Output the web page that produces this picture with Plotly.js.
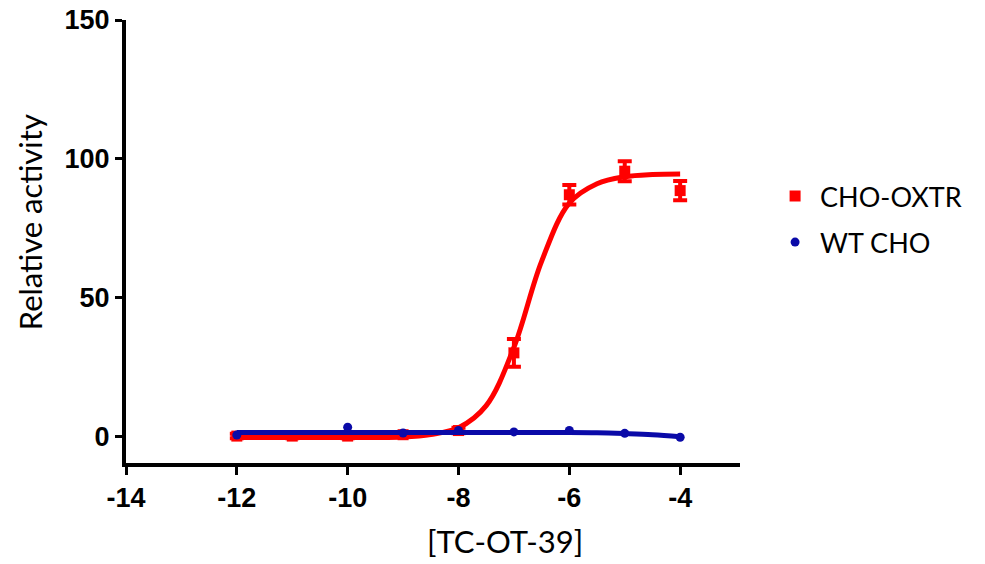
<!DOCTYPE html>
<html><head><meta charset="utf-8">
<script src="https://cdn.plot.ly/plotly-3.0.1.min.js"></script>
<style>body{margin:0;background:#fff}#c{width:985px;height:564px}</style>
</head><body><div id="c"></div>
<script>
// Data
const oxtrX = [-12, -11, -10, -9, -8, -7, -6, -5, -4];
const oxtrY = [0, 0, 0, 0.5, 2, 30, 87, 95.5, 88.5];
const oxtrErr = [0.8, 0.8, 0.8, 0.8, 1, 5, 3.5, 3.6, 3.5];
const oxtrFitX = [-12, -11, -10, -9, -8.5, -8, -7.5, -7, -6.5, -6, -5.5, -5, -4.5, -4];
const oxtrFitY = [-0.5, -0.5, -0.5, -0.3, 0.6, 3, 11, 32, 63, 84, 91, 93.5, 94.3, 94.5];
const wtX = [-12, -10, -9, -8, -7, -6, -5, -4];
const wtY = [0.4, 3.2, 1.1, 2, 1.5, 2, 1, -0.4];
const wtFitX = [-12, -10, -8, -6, -5.5, -5, -4.5, -4];
const wtFitY = [1.3, 1.3, 1.3, 1.3, 1.2, 0.9, 0.5, -0.2];
const xTicks = [-14, -12, -10, -8, -6, -4];
const yTicks = [0, 50, 100, 150];

const red = '#ff0000', blue = '#0a0aa8';
const traces = [
  {x: oxtrFitX, y: oxtrFitY, mode: 'lines', line: {color: red, width: 5, shape: 'spline'}, showlegend: false, hoverinfo: 'skip'},
  {x: oxtrX, y: oxtrY, mode: 'markers', name: 'CHO-OXTR', legendgroup: 'a',
   marker: {symbol: 'square', size: 11, color: red},
   error_y: {type: 'data', array: oxtrErr, visible: true, color: red, thickness: 4, width: 7}},
  {x: wtFitX, y: wtFitY, mode: 'lines', line: {color: blue, width: 5, shape: 'spline'}, showlegend: false, hoverinfo: 'skip'},
  {x: wtX, y: wtY, mode: 'markers', name: 'WT CHO', legendgroup: 'b',
   marker: {symbol: 'circle', size: 9, color: blue}}
];
const tickFont = {family: 'Liberation Sans, Arial, sans-serif', size: 27, color: '#000', weight: 'bold'};
const layout = {
  width: 985, height: 564,
  margin: {l: 126, r: 245, t: 20, b: 101},
  paper_bgcolor: '#fff', plot_bgcolor: '#fff',
  xaxis: {range: [-14, -2.92], tickvals: xTicks, ticktext: xTicks.map(String), showgrid: false, zeroline: false,
          showline: true, linecolor: '#000', linewidth: 4, ticks: 'outside', ticklen: 8, tickwidth: 3, tickcolor: '#000',
          tickfont: tickFont},
  yaxis: {range: [-9.7, 150], tickvals: yTicks, showgrid: false, zeroline: false,
          showline: true, linecolor: '#000', linewidth: 4, ticks: 'outside', ticklen: 7, tickwidth: 3, tickcolor: '#000',
          tickfont: tickFont},
  legend: {x: 1.049, y: 0.657, xanchor: 'left', yanchor: 'top', font: {family: 'Lato, Open Sans, sans-serif', size: 27, color: '#000'},
           tracegroupgap: 8, itemwidth: 40},
  annotations: [
    {text: '[TC-OT-39]', xref: 'paper', yref: 'paper', x: (505 - 126) / 614, y: -0.175, xanchor: 'center', yanchor: 'middle',
     showarrow: false, font: {family: 'Lato, Open Sans, sans-serif', size: 31, color: '#000'}},
    {text: 'Relative activity', xref: 'paper', yref: 'paper', x: -0.156, y: 0.544, xanchor: 'center', yanchor: 'middle',
     textangle: -90, showarrow: false, font: {family: 'Lato, Open Sans, sans-serif', size: 31, color: '#000'}}
  ]
};
Plotly.newPlot('c', traces, layout, {displayModeBar: false, staticPlot: true});
</script></body></html>
